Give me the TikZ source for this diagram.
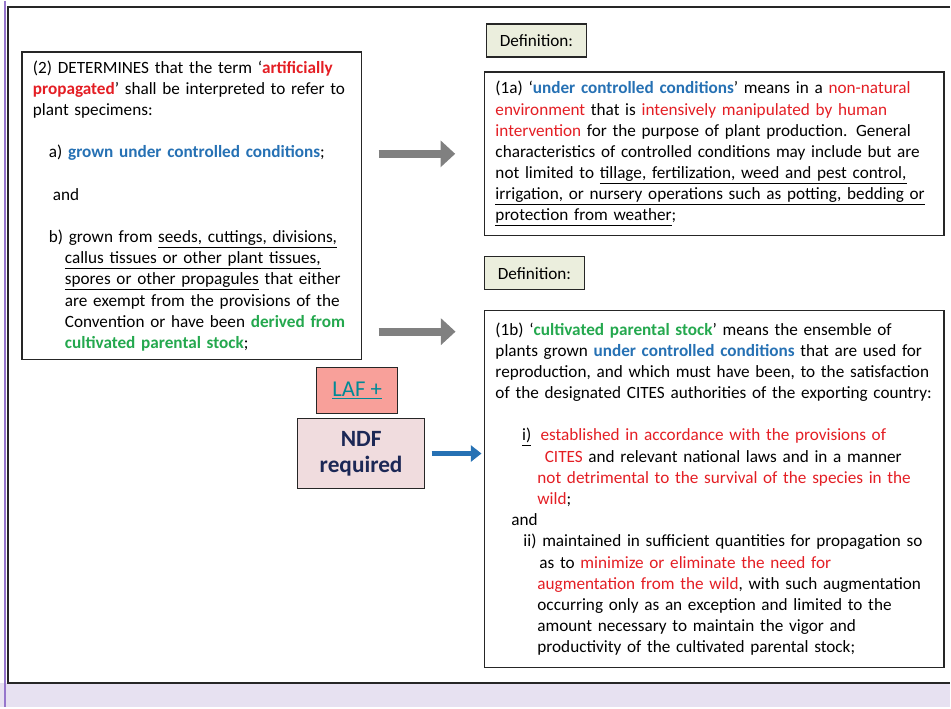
\documentclass[tikz,border=0pt]{standalone}
\usepackage{fontspec}
\setmainfont{Carlito}
\usepackage{xcolor}
\usetikzlibrary{arrows.meta}

\definecolor{cred}{RGB}{228,30,36}
\definecolor{cblue}{RGB}{38,113,180}
\definecolor{cgreen}{RGB}{36,168,78}
\definecolor{cnavy}{RGB}{28,40,86}
\definecolor{cteal}{RGB}{0,138,150}
\definecolor{clav}{RGB}{231,225,241}
\definecolor{cpurple}{RGB}{150,118,204}
\definecolor{cbeige}{RGB}{235,238,221}
\definecolor{csalmon}{RGB}{248,160,154}
\definecolor{cpink}{RGB}{240,220,222}
\definecolor{cgrey}{RGB}{128,128,128}

\newcommand{\rd}[1]{\textcolor{cred}{#1}}
\newcommand{\bl}[1]{\textcolor{cblue}{\textbf{#1}}}
\newcommand{\gr}[1]{\textcolor{cgreen}{\textbf{#1}}}

\begin{document}
\begin{tikzpicture}
  [x=0.75pt,y=-0.75pt,
   every node/.style={inner sep=0pt,outer sep=0pt},
   BoxStyle/.style={draw=black!85,line width=1pt,anchor=north west,align=left,
     inner xsep=8.25pt,text width=#1,
     font=\fontsize{12.9}{15.9}\selectfont},
   LabelStyle/.style={draw=black!85,line width=1pt,fill=cbeige,anchor=north west,
     minimum width=75pt,minimum height=24.75pt,font=\fontsize{12.9}{15.9}\selectfont}]
 \tikzset{GreyArrow/.style={cgrey,line width=6pt,-{Triangle[width=19.5pt,length=11pt]}},
   BlueArrow/.style={cblue,line width=4pt,-{Triangle[width=12pt,length=8pt]}}}

 % background and frame
 \fill[clav] (0,0) rectangle (951,707);
 \fill[white] (0,0) rectangle (951,683);
 \draw[black!85,line width=1.5pt] (951,6) -- (8,6) -- (8,683) -- (951,683);
 \draw[cpurple,line width=1.5pt] (5.5,0) -- (5.5,707);

 \node[BoxStyle=238.5pt,minimum height=231pt] (det) at (22,51) {%
  (2) DETERMINES that the term ‘\textcolor{cred}{\textbf{artificially}}\\
  \textcolor{cred}{\textbf{propagated}}’ shall be interpreted to refer to\\
  plant specimens:\\[15.9pt]
  \hspace*{12pt}a) \bl{grown under controlled conditions};\\[15.9pt]
  \hspace*{15pt}and\\[15.9pt]
  \hspace*{12pt}b) grown from \underline{seeds, cuttings, divisions,}\\
  \hspace*{24pt}\underline{callus tissues or other plant tissues,}\\
  \hspace*{24pt}\underline{spores or other propagules} that either\\
  \hspace*{24pt}are exempt from the provisions of the\\
  \hspace*{24pt}Convention or have been \gr{derived from}\\
  \hspace*{24pt}\gr{cultivated parental stock};};

 \node[LabelStyle] (lbl1) at (487,23) {Definition:};
 \node[BoxStyle=328.5pt,minimum height=123pt] (def1a) at (485,71) {%
  (1a) ‘\bl{under controlled conditions}’ means in a \rd{non-natural}\\
  \rd{environment} that is \rd{intensively manipulated by human}\\
  \rd{intervention} for the purpose of plant production. General\\
  characteristics of controlled conditions may include but are\\
  not limited to \underline{tillage, fertilization, weed and pest control,}\\
  \underline{irrigation, or nursery operations such as potting, bedding or}\\
  \underline{protection from weather};};

 \node[LabelStyle] (lbl2) at (485,256) {Definition:};
 \node[BoxStyle=328.5pt,minimum height=267.75pt] (def1b) at (485,310) {%
  (1b) ‘\gr{cultivated parental stock}’ means the ensemble of\\
  plants grown \bl{under controlled conditions} that are used for\\
  reproduction, and which must have been, to the satisfaction\\
  of the designated CITES authorities of the exporting country:\\[15.9pt]
  \hspace*{20pt}\underline{i)}\hspace{7pt}\rd{established in accordance with the provisions of}\\
  \hspace*{37pt}\rd{CITES} and relevant national laws and in a manner\\
  \hspace*{31.5pt}\rd{not detrimental to the survival of the species in the}\\
  \hspace*{31.5pt}\rd{wild};\\
  \hspace*{12pt}and\\
  \hspace*{21pt}ii) maintained in sufficient quantities for propagation so\\
  \hspace*{33pt}as to \rd{minimize or eliminate the need for}\\
  \hspace*{31.5pt}\rd{augmentation from the wild}, with such augmentation\\
  \hspace*{31.5pt}occurring only as an exception and limited to the\\
  \hspace*{31.5pt}amount necessary to maintain the vigor and\\
  \hspace*{31.5pt}productivity of the cultivated parental stock;};

 \node[draw=black!85,line width=1pt,fill=csalmon,anchor=north west,
   minimum width=60.75pt,minimum height=34.5pt,
   font=\fontsize{17}{20}\selectfont,text=cteal] (laf) at (317,367) {\underline{LAF +}};
 \node[draw=black!85,line width=1pt,fill=cpink,anchor=north west,align=center,
   minimum width=95.25pt,minimum height=52.5pt,
   font=\fontsize{17.5}{19.5}\selectfont\bfseries,text=cnavy] (ndf) at (298,418) {NDF\\required};

 \coordinate (c1) at (379,331);
 \coordinate (c2) at (456,331);
 \draw[GreyArrow,shorten <=12.75pt,shorten >=22pt] (det.east |- def1a.west) -- (def1a.west);
 \draw[GreyArrow] (c1) -- (c2);
 \draw[BlueArrow,shorten <=5.25pt,shorten >=2.25pt] (ndf.east) -- (ndf.east -| def1b.west);
\end{tikzpicture}
\end{document}
